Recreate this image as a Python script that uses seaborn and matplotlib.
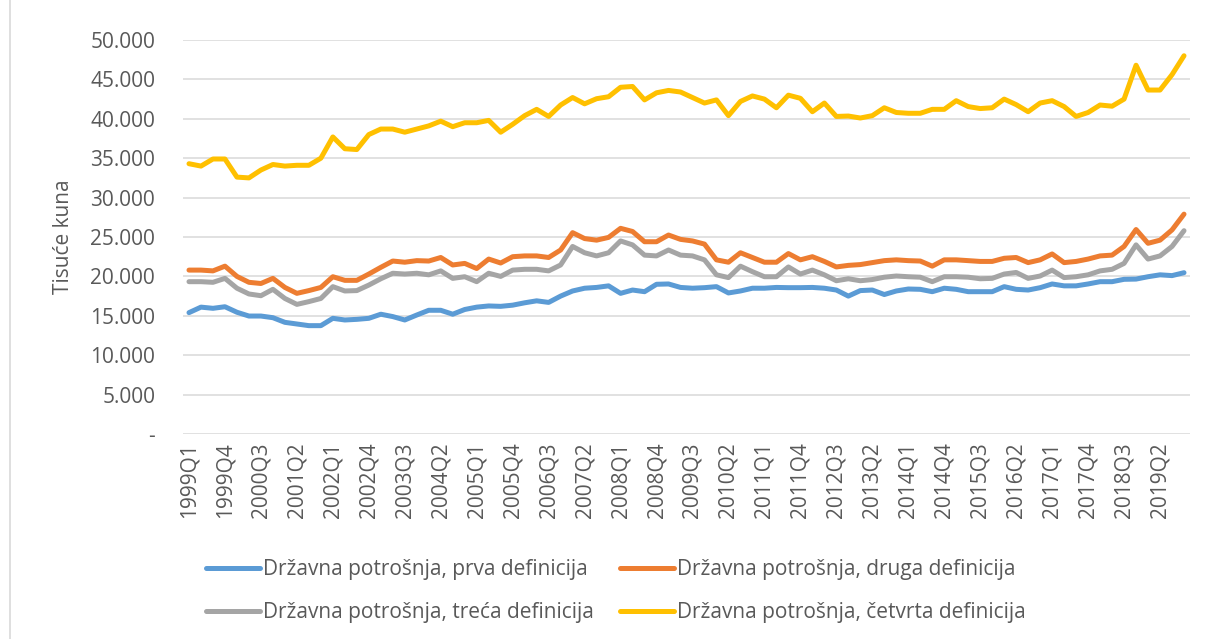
import matplotlib
matplotlib.use("Agg")
import matplotlib.pyplot as plt
import seaborn as sns
import pandas as pd
import numpy as np

# ---- data (thousand kuna) ----
quarters = [f"{y}Q{q}" for y in range(1999, 2020) for q in range(1, 5)]

prva = [15.4, 16.1, 15.95, 16.15, 15.45, 14.97, 14.97, 14.76, 14.17, 13.96,
        13.75, 13.75, 14.68, 14.47, 14.55, 14.68, 15.2, 14.9, 14.47, 15.1,
        15.7, 15.7, 15.2, 15.8, 16.1, 16.25, 16.2, 16.35, 16.65, 16.9,
        16.7, 17.5, 18.15, 18.5, 18.6, 18.8, 17.85, 18.27, 18.06, 19.0,
        19.04, 18.6, 18.5, 18.57, 18.7, 17.9, 18.15, 18.5, 18.5, 18.6,
        18.57, 18.57, 18.6, 18.5, 18.27, 17.5, 18.2, 18.27, 17.7, 18.15,
        18.4, 18.36, 18.06, 18.5, 18.36, 18.06, 18.06, 18.06, 18.7, 18.36,
        18.27, 18.57, 19.04, 18.8, 18.8, 19.04, 19.33, 19.33, 19.63, 19.66,
        19.96, 20.2, 20.1, 20.47]

druga = [20.8, 20.8, 20.7, 21.3, 20.0, 19.25, 19.1, 19.75, 18.6, 17.85,
         18.2, 18.6, 19.96, 19.5, 19.5, 20.3, 21.15, 21.95, 21.8, 22.0,
         21.95, 22.4, 21.45, 21.65, 21.0, 22.2, 21.7, 22.5, 22.6, 22.6,
         22.4, 23.35, 25.55, 24.8, 24.6, 24.95, 26.1, 25.7, 24.4, 24.4,
         25.25, 24.7, 24.5, 24.1, 22.1, 21.8, 23.0, 22.4, 21.8, 21.8,
         22.9, 22.1, 22.5, 21.9, 21.2, 21.4, 21.5, 21.75, 22.0, 22.1,
         22.0, 21.95, 21.3, 22.1, 22.1, 22.0, 21.9, 21.9, 22.3, 22.4,
         21.75, 22.1, 22.85, 21.75, 21.9, 22.2, 22.6, 22.7, 23.8, 25.95,
         24.2, 24.6, 25.9, 27.9]

treca = [19.33, 19.33, 19.25, 19.75, 18.5, 17.77, 17.55, 18.36, 17.2, 16.45,
         16.8, 17.2, 18.7, 18.15, 18.2, 18.9, 19.7, 20.4, 20.3, 20.4,
         20.2, 20.7, 19.75, 19.96, 19.33, 20.4, 20.0, 20.8, 20.9, 20.9,
         20.7, 21.45, 23.8, 23.0, 22.6, 23.0, 24.5, 24.0, 22.7, 22.6,
         23.35, 22.7, 22.6, 22.1, 20.2, 19.85, 21.3, 20.6, 19.96, 19.96,
         21.2, 20.3, 20.8, 20.2, 19.45, 19.7, 19.45, 19.6, 19.9, 20.05,
         19.96, 19.9, 19.33, 19.96, 19.96, 19.9, 19.7, 19.75, 20.3, 20.5,
         19.75, 20.05, 20.8, 19.85, 19.96, 20.2, 20.7, 20.9, 21.65, 24.0,
         22.2, 22.6, 23.8, 25.8]

cetvrta = [34.3, 34.0, 34.9, 34.9, 32.6, 32.5, 33.5, 34.2, 34.0, 34.1,
           34.1, 35.0, 37.7, 36.2, 36.1, 38.0, 38.7, 38.7, 38.3, 38.7,
           39.1, 39.7, 39.0, 39.5, 39.5, 39.8, 38.3, 39.3, 40.4, 41.2,
           40.3, 41.75, 42.7, 41.9, 42.55, 42.8, 44.0, 44.1, 42.4, 43.3,
           43.6, 43.4, 42.7, 42.0, 42.4, 40.4, 42.2, 42.9, 42.5, 41.4,
           43.0, 42.6, 40.9, 42.0, 40.3, 40.35, 40.1, 40.4, 41.4, 40.8,
           40.7, 40.7, 41.2, 41.2, 42.3, 41.55, 41.3, 41.4, 42.5, 41.8,
           40.9, 42.0, 42.3, 41.55, 40.3, 40.8, 41.75, 41.6, 42.5, 46.8,
           43.65, 43.65, 45.6, 48.0]

series_names = ["Državna potrošnja, prva definicija",
                "Državna potrošnja, druga definicija",
                "Državna potrošnja, treća definicija",
                "Državna potrošnja, četvrta definicija"]
colors = ["#5B9BD5", "#ED7D31", "#A5A5A5", "#FFC000"]

y_ticks = [0, 5000, 10000, 15000, 20000, 25000, 30000, 35000, 40000, 45000, 50000]
y_ticklabels = ["-", "5.000", "10.000", "15.000", "20.000", "25.000",
                "30.000", "35.000", "40.000", "45.000", "50.000"]
y_label = "Tisuće kuna"

# ---- build long table ----
frames = []
for name, vals in zip(series_names, [prva, druga, treca, cetvrta]):
    frames.append(pd.DataFrame({"idx": np.arange(len(quarters)),
                                "kvartal": quarters,
                                "vrijednost": np.array(vals) * 1000,
                                "serija": name}))
df = pd.concat(frames, ignore_index=True)

sns.set_theme(style="white")
plt.rcParams["font.family"] = ["Open Sans", "DejaVu Sans"]
txt = "#595959"

fig = plt.figure(figsize=(12.15, 6.39), dpi=100)
ax = fig.add_axes([183 / 1215, 1 - 434 / 639, 1007 / 1215, 394 / 639])

sns.lineplot(data=df, x="idx", y="vrijednost", hue="serija",
             hue_order=series_names, palette=colors, linewidth=3.6,
             ax=ax, legend=False, solid_capstyle="round", solid_joinstyle="round")

ax.set_xlim(-0.5, len(quarters) - 0.5)
ax.set_ylim(0, 50000)
ax.set_yticks(y_ticks)
ax.set_yticklabels(y_ticklabels, fontsize=15, color=txt)
tick_idx = list(range(0, len(quarters), 3))
ax.set_xticks(tick_idx)
ax.set_xticklabels([quarters[i] for i in tick_idx], rotation=90,
                   fontsize=15, color=txt)
ax.tick_params(axis="both", length=0)
ax.tick_params(axis="y", pad=20)
ax.tick_params(axis="x", pad=6)
ax.set_xlabel("")
ax.set_ylabel(y_label, fontsize=15, color=txt, labelpad=12)
ax.grid(axis="y", color="#D9D9D9", linewidth=1.1)
ax.set_axisbelow(True)
for s in ax.spines.values():
    s.set_visible(False)

# legend
handles = [plt.Line2D([], [], color=c, linewidth=3.6, solid_capstyle="round")
           for c in colors]
order = [0, 2, 1, 3]
fig.legend([handles[i] for i in order], [series_names[i] for i in order],
           ncol=2, loc="upper left", bbox_to_anchor=(0.154, 0.154),
           frameon=False, fontsize=15, handlelength=2.6, handletextpad=0.15,
           columnspacing=1.25, labelspacing=1.05, labelcolor=txt)

# outer frame line
fig.add_artist(plt.Line2D([10 / 1215, 10 / 1215], [0, 1], color="#D9D9D9",
                          linewidth=1.2, transform=fig.transFigure))

fig.savefig("out.png", dpi=100)
